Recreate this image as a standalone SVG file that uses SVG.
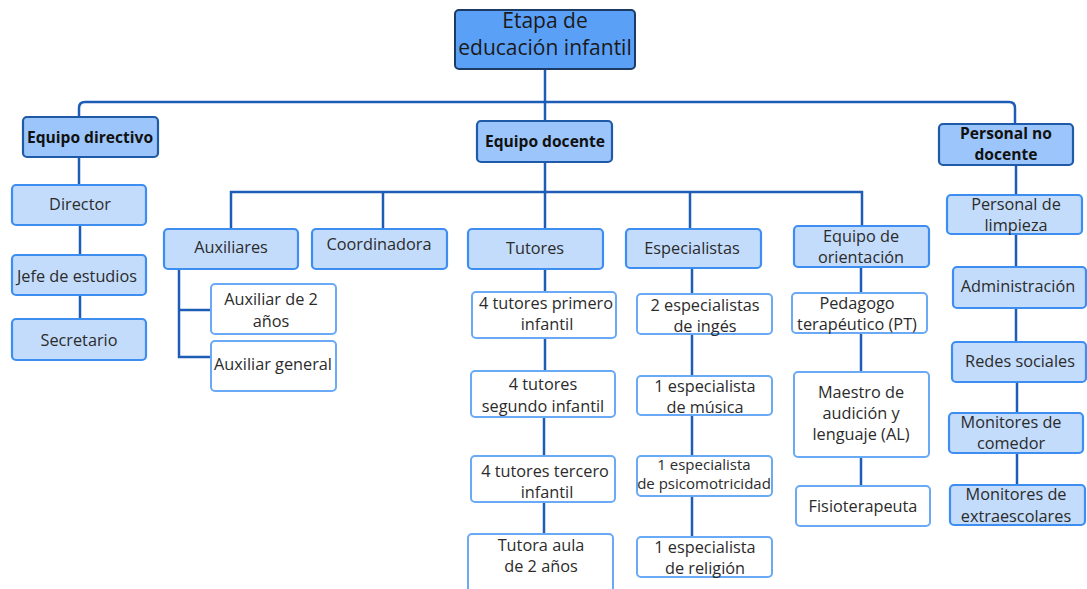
<svg xmlns="http://www.w3.org/2000/svg" width="1087" height="589" viewBox="0 0 1087 589">
<style>
text{font-family:"Open Sans","Noto Sans","DejaVu Sans",sans-serif;text-anchor:middle;fill:#2b2b2b;font-size:16.3px}
.root rect{fill:#5aa0f7;stroke:#1c3a63;stroke-width:2}
.root text{font-size:21px;fill:#1a1a1a}
.hdr rect{fill:#9cc6fb;stroke:#1e5aa8;stroke-width:2.2}
.hdr text{font-weight:bold;fill:#111;font-size:15.6px}
.mid rect{fill:#c3dcfc;stroke:#3e8ef2;stroke-width:2.2}
.leaf rect{fill:#fff;stroke:#6aa9f5;stroke-width:2}
.conn path{fill:none;stroke:#1d5db5;stroke-width:2.5}
</style>
<rect width="1087" height="589" fill="#fff"/>
<g class="conn">
<path d="M545 69V121"/>
<path d="M79 117V108Q79 102 85 102H1009Q1015 102 1015 108V124"/>
<path d="M79 157V185M80 225V255M80 295V319"/>
<path d="M545 162V192M231 229V192H862V226M383 192V229M545 192V229M690 192V229"/>
<path d="M179 269V357H211M179 310H211"/>
<path d="M545 269V292M545 338V371M544 417V456M544 502V534"/>
<path d="M692 268V294M692 334V376M692 415V456M692 496V537"/>
<path d="M861 267V293M861 333V372M861 457V486"/>
<path d="M1016 165V195M1016 234V267M1016 308V342M1017 382V413M1017 453V485"/>
</g>
<g id="root" class="root"><rect x="455" y="10" width="180" height="59" rx="4"/><text x="545" y="28">Etapa de</text><text x="545" y="55">educación infantil</text></g>
<g id="equipo-directivo" class="hdr"><rect x="23" y="117" width="135" height="40" rx="4"/><text x="90" y="143">Equipo directivo</text></g>
<g id="equipo-docente" class="hdr"><rect x="477" y="121" width="135" height="41" rx="4"/><text x="545" y="147">Equipo docente</text></g>
<g id="personal-no-docente" class="hdr"><rect x="939" y="124" width="134" height="41" rx="4"/><text x="1006" y="139">Personal no</text><text x="1006" y="160">docente</text></g>
<g id="director" class="mid"><rect x="12" y="185" width="134" height="40" rx="4"/><text x="80" y="210">Director</text></g>
<g id="jefe" class="mid"><rect x="12" y="255" width="134" height="40" rx="4"/><text x="77" y="282">Jefe de estudios</text></g>
<g id="secretario" class="mid"><rect x="12" y="319" width="134" height="41" rx="4"/><text x="79" y="346">Secretario</text></g>
<g id="auxiliares" class="mid"><rect x="164" y="229" width="134" height="40" rx="4"/><text x="231" y="253">Auxiliares</text></g>
<g id="coordinadora" class="mid"><rect x="312" y="229" width="135" height="40" rx="4"/><text x="379" y="250">Coordinadora</text></g>
<g id="tutores" class="mid"><rect x="468" y="229" width="135" height="40" rx="4"/><text x="535" y="254">Tutores</text></g>
<g id="especialistas" class="mid"><rect x="626" y="229" width="135" height="39" rx="4"/><text x="692" y="254">Especialistas</text></g>
<g id="orientacion" class="mid"><rect x="794" y="226" width="135" height="41" rx="4"/><text x="861" y="242">Equipo de</text><text x="861" y="263">orientación</text></g>
<g id="aux2" class="leaf"><rect x="211" y="284" width="125" height="50" rx="4"/><text x="271" y="305">Auxiliar de 2</text><text x="271" y="327">años</text></g>
<g id="auxgen" class="leaf"><rect x="211" y="341" width="125" height="50" rx="4"/><text x="273" y="370">Auxiliar general</text></g>
<g id="tut1" class="leaf"><rect x="472" y="292" width="144" height="46" rx="4"/><text x="546" y="309">4 tutores primero</text><text x="547" y="330">infantil</text></g>
<g id="tut2" class="leaf"><rect x="471" y="371" width="144" height="46" rx="4"/><text x="543" y="390">4 tutores</text><text x="543" y="412">segundo infantil</text></g>
<g id="tut3" class="leaf"><rect x="471" y="456" width="144" height="46" rx="4"/><text x="545" y="477">4 tutores tercero</text><text x="547" y="498">infantil</text></g>
<g id="tut4" class="leaf"><rect x="468" y="534" width="145" height="58" rx="4"/><text x="541" y="551">Tutora aula</text><text x="541" y="572">de 2 años</text></g>
<g id="esp1" class="leaf"><rect x="637" y="294" width="135" height="40" rx="4"/><text x="705" y="311">2 especialistas</text><text x="705" y="332">de ingés</text></g>
<g id="esp2" class="leaf"><rect x="637" y="376" width="135" height="39" rx="4"/><text x="705" y="392">1 especialista</text><text x="705" y="413">de música</text></g>
<g id="esp3" class="leaf"><rect x="637" y="456" width="135" height="40" rx="4"/><text x="704" y="470" style="font-size:15px">1 especialista</text><text x="704" y="489" style="font-size:15px">de psicomotricidad</text></g>
<g id="esp4" class="leaf"><rect x="637" y="537" width="135" height="40" rx="4"/><text x="705" y="553">1 especialista</text><text x="705" y="574">de religión</text></g>
<g id="pt" class="leaf"><rect x="792" y="293" width="135" height="40" rx="4"/><text x="857" y="309">Pedagogo</text><text x="857" y="330">terapéutico (PT)</text></g>
<g id="al" class="leaf"><rect x="794" y="372" width="135" height="85" rx="4"/><text x="861" y="398">Maestro de</text><text x="861" y="419">audición y</text><text x="861" y="440">lenguaje (AL)</text></g>
<g id="fisio" class="leaf"><rect x="796" y="486" width="134" height="40" rx="4"/><text x="863" y="512">Fisioterapeuta</text></g>
<g id="limpieza" class="mid"><rect x="947" y="195" width="135" height="39" rx="4"/><text x="1016" y="210">Personal de</text><text x="1016" y="231">limpieza</text></g>
<g id="admin" class="mid"><rect x="953" y="267" width="133" height="41" rx="4"/><text x="1018" y="292">Administración</text></g>
<g id="redes" class="mid"><rect x="952" y="342" width="134" height="40" rx="4"/><text x="1020" y="367">Redes sociales</text></g>
<g id="comedor" class="mid"><rect x="949" y="413" width="134" height="40" rx="4"/><text x="1011" y="428">Monitores de</text><text x="1011" y="449">comedor</text></g>
<g id="extra" class="mid"><rect x="950" y="485" width="135" height="40" rx="4"/><text x="1016" y="500">Monitores de</text><text x="1016" y="522">extraescolares</text></g>
</svg>
